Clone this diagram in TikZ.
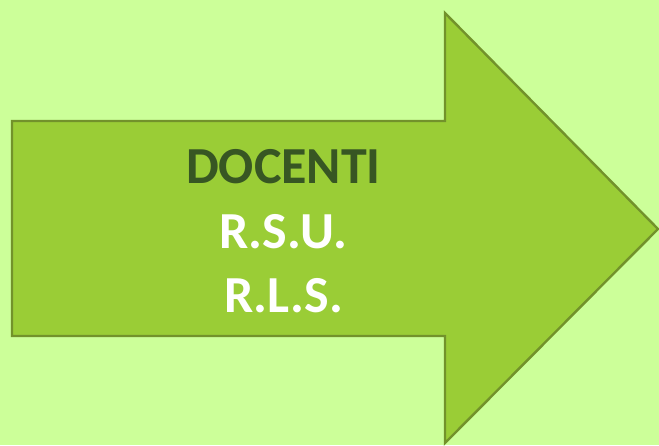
\documentclass[tikz,border=0pt]{standalone}
\usepackage{fontspec}
\setmainfont{Carlito}
\definecolor{bggreen}{HTML}{CCFF99}
\definecolor{arrowfill}{HTML}{9ACD36}
\definecolor{arrowline}{HTML}{72922B}
\definecolor{darkgreen}{HTML}{375623}
\begin{document}
\begin{tikzpicture}[x=1pt,y=-1pt,
		bigarrow/.style={fill=arrowfill, draw=arrowline, line width=2.4pt, line join=miter},
		lbl/.style={anchor=base, inner sep=0pt, font=\fontsize{52}{64}\selectfont\bfseries}]
		\useasboundingbox (0,0) rectangle (659,445);
		\fill[bggreen] (0,0) rectangle (659,445);
		\draw[bigarrow] (12,121) -- (445,121) -- (445,13) -- (658,229) -- (445,443) -- (445,336) -- (12,336) -- cycle;
		\node[lbl, text=darkgreen] (docenti) at (283.5,183.5) {DOCENTI};
		\node[lbl, text=white] (rsu) at (283.5,248) {R.S.U.};
		\node[lbl, text=white] (rls) at (283.5,312) {R.L.S.};
	\end{tikzpicture}
\end{document}
